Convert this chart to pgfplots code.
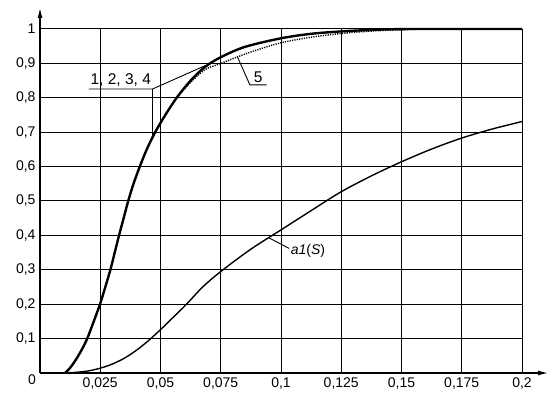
\documentclass[border=0pt]{standalone}
\usepackage{fontspec}
\setmainfont{Liberation Sans}
\usepackage{pgfplots}
\pgfplotsset{compat=1.18}
\usetikzlibrary{arrows.meta}
\begin{document}
\begin{tikzpicture}
\begin{axis}[
  scale only axis, width=482pt, height=344pt,
  xmin=0, xmax=0.2, ymin=0, ymax=1,
  axis lines=left,
  x axis line style={line width=1.2pt, shorten >=-26pt, -{Latex[length=10pt,width=5pt]}},
  y axis line style={line width=1.2pt, shorten >=-21pt, -{Latex[length=10pt,width=5pt]}},
  clip=false,
  xtick={0.025,0.05,0.075,0.1,0.125,0.15,0.175,0.2},
  xticklabels={{0,025},{0,05},{0,075},{0,1},{0,125},{0,15},{0,175},{0,2}},
  ytick={0.1,0.2,0.3,0.4,0.5,0.6,0.7,0.8,0.9,1},
  yticklabels={{0,1},{0,2},{0,3},{0,4},{0,5},{0,6},{0,7},{0,8},{0,9},1},
  grid=major, major grid style={black, line width=1pt},
  major tick length=0pt,
  tick label style={font=\fontsize{14}{16}\selectfont},
  xticklabel style={yshift=-1pt},
  yticklabel style={xshift=-1pt},
]
% curve 5 (dotted)
\addplot[black, line width=1.4pt, dash pattern=on 1.2pt off 1.2pt, smooth] coordinates {
(0.0567,0.80) (0.0625,0.845) (0.0685,0.882) (0.075,0.900) (0.087,0.932) (0.1,0.960)
(0.1125,0.976) (0.125,0.987) (0.14,0.995) (0.16,1.0)};
% curves 1,2,3,4
\addplot[black, line width=2.4pt, smooth] coordinates {
(0.0104,0) (0.0125,0.015) (0.015,0.04) (0.0175,0.07) (0.0196,0.10) (0.0223,0.15)
(0.0249,0.20) (0.0271,0.25) (0.0292,0.30) (0.0310,0.35) (0.0328,0.40) (0.0347,0.45)
(0.0366,0.50) (0.0388,0.55) (0.0414,0.60) (0.0443,0.65) (0.0478,0.70) (0.0520,0.75)
(0.0567,0.80) (0.0625,0.85) (0.0685,0.89) (0.075,0.918) (0.085,0.948)
(0.1,0.973) (0.1125,0.986) (0.125,0.993) (0.14,0.998) (0.155,1.0) (0.2,1.0)};
% a1(S)
\addplot[black, line width=1.4pt, smooth] coordinates {
(0.010,0) (0.015,0.002) (0.020,0.006) (0.025,0.014) (0.030,0.026) (0.035,0.043)
(0.040,0.066) (0.045,0.094) (0.050,0.126) (0.055,0.160) (0.0608,0.20) (0.0675,0.25)
(0.075,0.295) (0.0875,0.36) (0.100,0.416) (0.1125,0.472) (0.125,0.527) (0.1375,0.573)
(0.150,0.614) (0.1625,0.651) (0.175,0.683) (0.1875,0.709) (0.200,0.731)};
% origin label
\node[anchor=east, inner sep=0pt, font=\fontsize{14}{16}\selectfont] at ([xshift=-4pt,yshift=-7pt]axis cs:0,0) {0};
% annotation 1,2,3,4
\draw[black, line width=0.9pt] (axis cs:0.0203,0.8256) -- (axis cs:0.0467,0.8256) -- (axis cs:0.0684,0.893);
\draw[black, line width=0.5pt] (axis cs:0.0467,0.8256) -- (axis cs:0.0467,0.69);
\node[anchor=south, inner sep=2pt, font=\fontsize{15.5}{17}\selectfont] at (axis cs:0.0335,0.8256) {1, 2, 3, 4};
% annotation 5
\draw[black, line width=0.9pt] (axis cs:0.082,0.918) -- (axis cs:0.0871,0.8375) -- (axis cs:0.094,0.8375);
\node[anchor=south, inner sep=2pt, font=\fontsize{15.5}{17}\selectfont] at (axis cs:0.0905,0.8375) {5};
% annotation a1(S)
\draw[black, line width=0.9pt] (axis cs:0.0947,0.394) -- (axis cs:0.1034,0.362);
\node[anchor=west, inner sep=1pt, font=\fontsize{14}{16}\selectfont] at (axis cs:0.1036,0.355) {\textit{a1}(\textit{S})};
\coordinate (O) at (axis cs:0,0);
\end{axis}
\path (O) ++(-40pt,-25pt) rectangle ++(559pt,398pt);
\end{tikzpicture}
\end{document}
